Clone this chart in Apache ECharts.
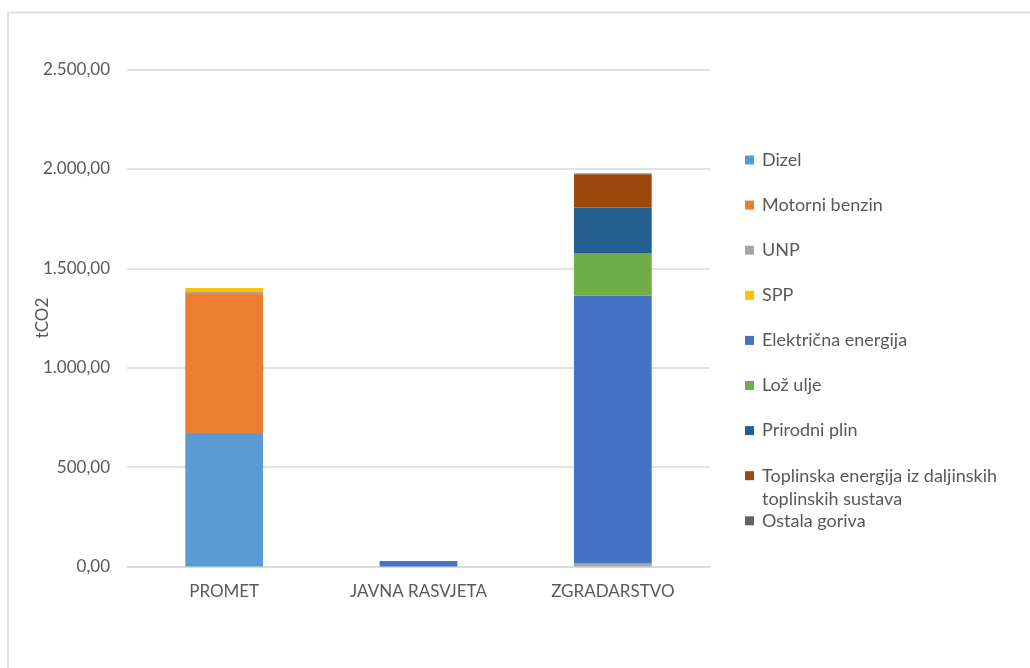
<!DOCTYPE html>
<html>
<head>
<meta charset="utf-8">
<script src="https://cdn.jsdelivr.net/npm/echarts@6/dist/echarts.min.js"></script>
<style>
  html, body { margin: 0; padding: 0; background: #ffffff; }
  #chart { width: 1030px; height: 668px; }
</style>
</head>
<body>
<div id="chart"></div>
<script>
// Emisije CO2 po sektorima (tCO2)
const categories = ['PROMET', 'JAVNA RASVJETA', 'ZGRADARSTVO'];

const dizel          = [672, 0, 0];
const motorniBenzin  = [699, 0, 0];
const unp            = [10, 0, 15];
const spp            = [20, 0, 0];
const elektricna     = [0, 28, 1347];
const lozUlje        = [0, 0, 213];
const prirodniPlin   = [0, 0, 231];
const toplinska      = [0, 0, 167];
const ostalaGoriva   = [0, 0, 4];

const yTicks = [0, 500, 1000, 1500, 2000, 2500];

const seriesDefs = [
  { name: 'Dizel', data: dizel, color: '#5b9bd5' },
  { name: 'Motorni benzin', data: motorniBenzin, color: '#ed7d31' },
  { name: 'UNP', data: unp, color: '#a5a5a5' },
  { name: 'SPP', data: spp, color: '#ffc000' },
  { name: 'Električna energija', data: elektricna, color: '#4472c4' },
  { name: 'Lož ulje', data: lozUlje, color: '#70ad47' },
  { name: 'Prirodni plin', data: prirodniPlin, color: '#255e91' },
  { name: 'Toplinska energija iz daljinskih toplinskih sustava', data: toplinska, color: '#9e480e' },
  { name: 'Ostala goriva', data: ostalaGoriva, color: '#636363' }
];

// Hrvatski format broja: 2.500,00
function hrNumber(v) {
  const parts = v.toFixed(2).split('.');
  parts[0] = parts[0].replace(/\B(?=(\d{3})+(?!\d))/g, '.');
  return parts.join(',');
}

const FONT = 'Lato';
const TXT = '#595959';

const chart = echarts.init(document.getElementById('chart'), null, { renderer: 'canvas' });

chart.setOption({
  animation: false,
  backgroundColor: '#ffffff',
  textStyle: { fontFamily: FONT },
  grid: { left: 127, right: 320, top: 69.5, bottom: 101.5 },
  xAxis: {
    type: 'category',
    data: categories,
    axisLine: { show: true, lineStyle: { color: '#d9d9d9', width: 1.5 } },
    axisTick: { show: false },
    axisLabel: { color: TXT, fontSize: 17, fontFamily: FONT, margin: 17 }
  },
  yAxis: {
    type: 'value',
    min: yTicks[0],
    max: yTicks[yTicks.length - 1],
    interval: 500,
    name: 'tCO2',
    nameLocation: 'middle',
    nameGap: 76,
    nameRotate: 90,
    nameMoveOverlap: false,
    nameTextStyle: { color: TXT, fontSize: 17, fontFamily: FONT },
    axisLine: { show: false },
    axisTick: { show: false },
    splitLine: { lineStyle: { color: '#d9d9d9', width: 1.5 } },
    axisLabel: { color: TXT, fontSize: 17, fontFamily: FONT, margin: 17, formatter: v => hrNumber(v) }
  },
  legend: {
    orient: 'vertical',
    left: 745,
    top: 149,
    padding: 0,
    itemWidth: 9,
    itemHeight: 9,
    itemGap: 23.1,
    icon: 'rect',
    data: seriesDefs.map(s => s.name),
    formatter: name => name.startsWith('Toplinska') ? 'Toplinska energija iz daljinskih' : name,
    textStyle: { color: TXT, fontSize: 18, fontFamily: FONT, lineHeight: 22, padding: [0, 0, 0, 3] }
  },
  graphic: [
    {
      type: 'rect',
      silent: true,
      shape: { x: 8, y: 12.5, width: 1100, height: 700 },
      style: { fill: 'none', stroke: '#d9d9d9', lineWidth: 1.5 }
    },
    {
      type: 'text',
      silent: true,
      left: 762,
      top: 488,
      style: { text: 'toplinskih sustava', fill: TXT, font: '18px ' + FONT, lineHeight: 22 }
    }
  ],
  series: seriesDefs.map(s => ({
    name: s.name,
    type: 'bar',
    stack: 'total',
    barWidth: '40%',
    data: s.data,
    itemStyle: { color: s.color }
  }))
});
</script>
</body>
</html>
